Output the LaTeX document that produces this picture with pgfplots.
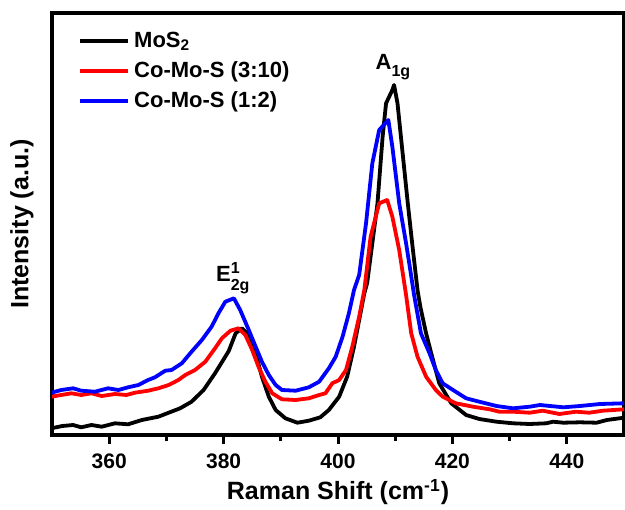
\documentclass[border=0pt]{standalone}
\usepackage{fontspec}
\setmainfont{Liberation Sans}
\usepackage{pgfplots}
\pgfplotsset{compat=1.18}
\definecolor{mred}{RGB}{255,0,0}
\definecolor{mblue}{RGB}{0,0,255}

\begin{document}
\begin{tikzpicture}
\useasboundingbox (-26pt,-37pt) rectangle (286.5pt,217.5pt);
\begin{axis}[
  at={(0,0)}, anchor=south west,
  scale only axis, width=286pt, height=211pt,
  xmin=350, xmax=450, ymin=0, ymax=422,
  xtick={360,380,...,440}, minor x tick num=1,
  ytick=\empty,
  tick align=outside, xtick pos=bottom,
  major tick length=4.5pt, minor tick length=3pt,
  every tick/.style={black, line width=1.5pt},
  axis line style={line width=2pt},
  /pgf/number format/assume math mode=true,
  xticklabel style={font=\fontsize{10.5}{12}\selectfont\bfseries, yshift=-1.5pt},
  xlabel={Raman Shift (cm\textsuperscript{-1})},
  ylabel={Intensity (a.u.)},
  every axis x label/.style={at={(axis description cs:0.5,-0.135)}, anchor=center,
    font=\fontsize{12.5}{14}\selectfont\bfseries},
  every axis y label/.style={at={(axis description cs:-0.0525,0.5)}, rotate=90, anchor=center,
    font=\fontsize{12.5}{14}\selectfont\bfseries},
  legend style={at={(axis description cs:0.035,0.975)}, anchor=north west,
    draw=none, fill=none, font=\fontsize{11}{13}\selectfont\bfseries,
    row sep=1.5pt},
  legend cell align=left,
  legend image code/.code={\draw[#1] (0pt,0pt) -- (24pt,0pt);},
  every axis plot/.append style={line width=1.9pt, line join=round},
]
\addplot[black] coordinates {
(349.9,6.7)(351.8,9)(353.7,10)(355.1,7.7)(356.9,10)(358.7,8.3)(361,11.7)(363.3,10.7)
(365.7,15)(368.6,18.3)(370.4,22.3)(372.4,26.7)(374.4,33.3)(376.5,45)(378.5,61.7)
(380.9,84)(382.1,101.7)(383.2,106.7)(384.4,100)(385.6,81.7)(386.7,58.3)(387.9,38.3)
(389.1,25)(390.8,16.7)(392.9,12.3)(394.9,14.3)(396.9,17.7)(398.4,25)(400.2,38.3)
(401.6,58.3)(402.8,88.3)(403.7,115)(404.6,141.7)(405.1,152)(406,191.7)(406.9,231.7)
(407.8,298.3)(408.4,331.7)(409.5,345)(409.8,350)(410.4,331.7)(411,298.3)(411.6,265)
(412.2,231.7)(413,190)(413.9,145)(414.4,128)(415.4,101.7)(416.3,81.7)(417.7,51.7)
(419.8,31.7)(422.4,20)(424.7,16)(427.7,13.3)(430.6,11.7)(433.5,11)(436.4,11.7)
(437.6,13.3)(439.4,12.3)(442.3,12.7)(445.2,12.3)(447,15)(450,17.3)
};
\addlegendentry{MoS\textsubscript{2}}
\addplot[mred] coordinates {
(349.9,38.3)(351.6,40)(353.4,41.7)(355.1,40)(356.9,41.7)(358.7,39)(361,41)(363,40)
(364.5,42.3)(366.8,44.3)(368.6,46.7)(370.4,50)(372.1,55)(373.3,60)(375,65)(376.8,73.3)
(378.5,86.7)(379.7,96.7)(381.2,104.3)(382.6,106.7)(383.8,100)(385,85)(386.1,68.3)
(387.3,53.3)(388.5,41.7)(390.2,35.7)(392.6,35)(394.9,36.7)(396.7,40)(397.8,41.7)
(399,51.7)(400.2,55)(401.4,65)(402.5,88.3)(403.7,118.3)(404.6,145)(405.7,198.3)
(407.2,231.7)(408.6,235)(409.5,218.3)(410.7,185)(411.9,140)(412.8,101.7)(413.9,78.3)
(415.4,58.3)(417.1,45)(418.3,38.3)(420.6,31.7)(423.6,28.3)(426.5,25.7)(428.2,23.3)
(430.6,23.3)(433.5,22.3)(435.8,24.3)(438.7,21)(441.6,23.3)(443.9,22.3)(446.3,24.3)
(450,25.7)
};
\addlegendentry{Co-Mo-S (3:10)}
\addplot[mblue] coordinates {
(349.9,42.3)(351.6,45)(353.7,46.7)(355.1,44.3)(357.5,43.3)(359.8,46.7)(361.6,45)
(363.3,47.7)(365.1,50)(366.8,55)(368,57.7)(369.8,64.3)(370.9,65)(372.7,71.7)
(374.4,83.3)(376.2,95)(377.9,108.3)(379.1,121.7)(380.3,133.3)(381.8,136.7)
(382.9,125)(384.4,105)(385.6,88.3)(386.7,73.3)(387.9,60)(389.1,50)(390.2,45)
(392.6,44.3)(394.9,47.7)(396.7,53.3)(398.4,66.7)(399.6,78.3)(400.8,98.3)(401.9,121.7)
(402.8,145)(403.7,160)(404.9,211.7)(406,271.7)(407.2,305)(408.8,315)(409.5,288.3)
(410.7,231.7)(411.9,191.7)(412.5,170)(413.3,140)(414.5,101.7)(416,81.7)(417.1,65)
(418.3,51.7)(420.1,45)(422.4,36.7)(424.7,33.3)(427.7,29)(430.6,26.7)(433.5,28.3)
(435.3,30)(439.4,27.7)(442.3,29)(445.8,31)(450,31.7)
};
\addlegendentry{Co-Mo-S (1:2)}
\node[font=\fontsize{11}{13}\selectfont\bfseries, inner sep=0pt] at (axis cs:381.6,157)
  {E\rlap{\raisebox{0.75ex}{\fontsize{8}{9}\selectfont 1}}\raisebox{-0.75ex}{\fontsize{8}{9}\selectfont 2g}};
\node[font=\fontsize{11}{13}\selectfont\bfseries, inner sep=0pt] at (axis cs:409.6,368)
  {A\raisebox{-0.6ex}{\fontsize{8}{9}\selectfont 1g}};
\end{axis}
\end{tikzpicture}
\end{document}
